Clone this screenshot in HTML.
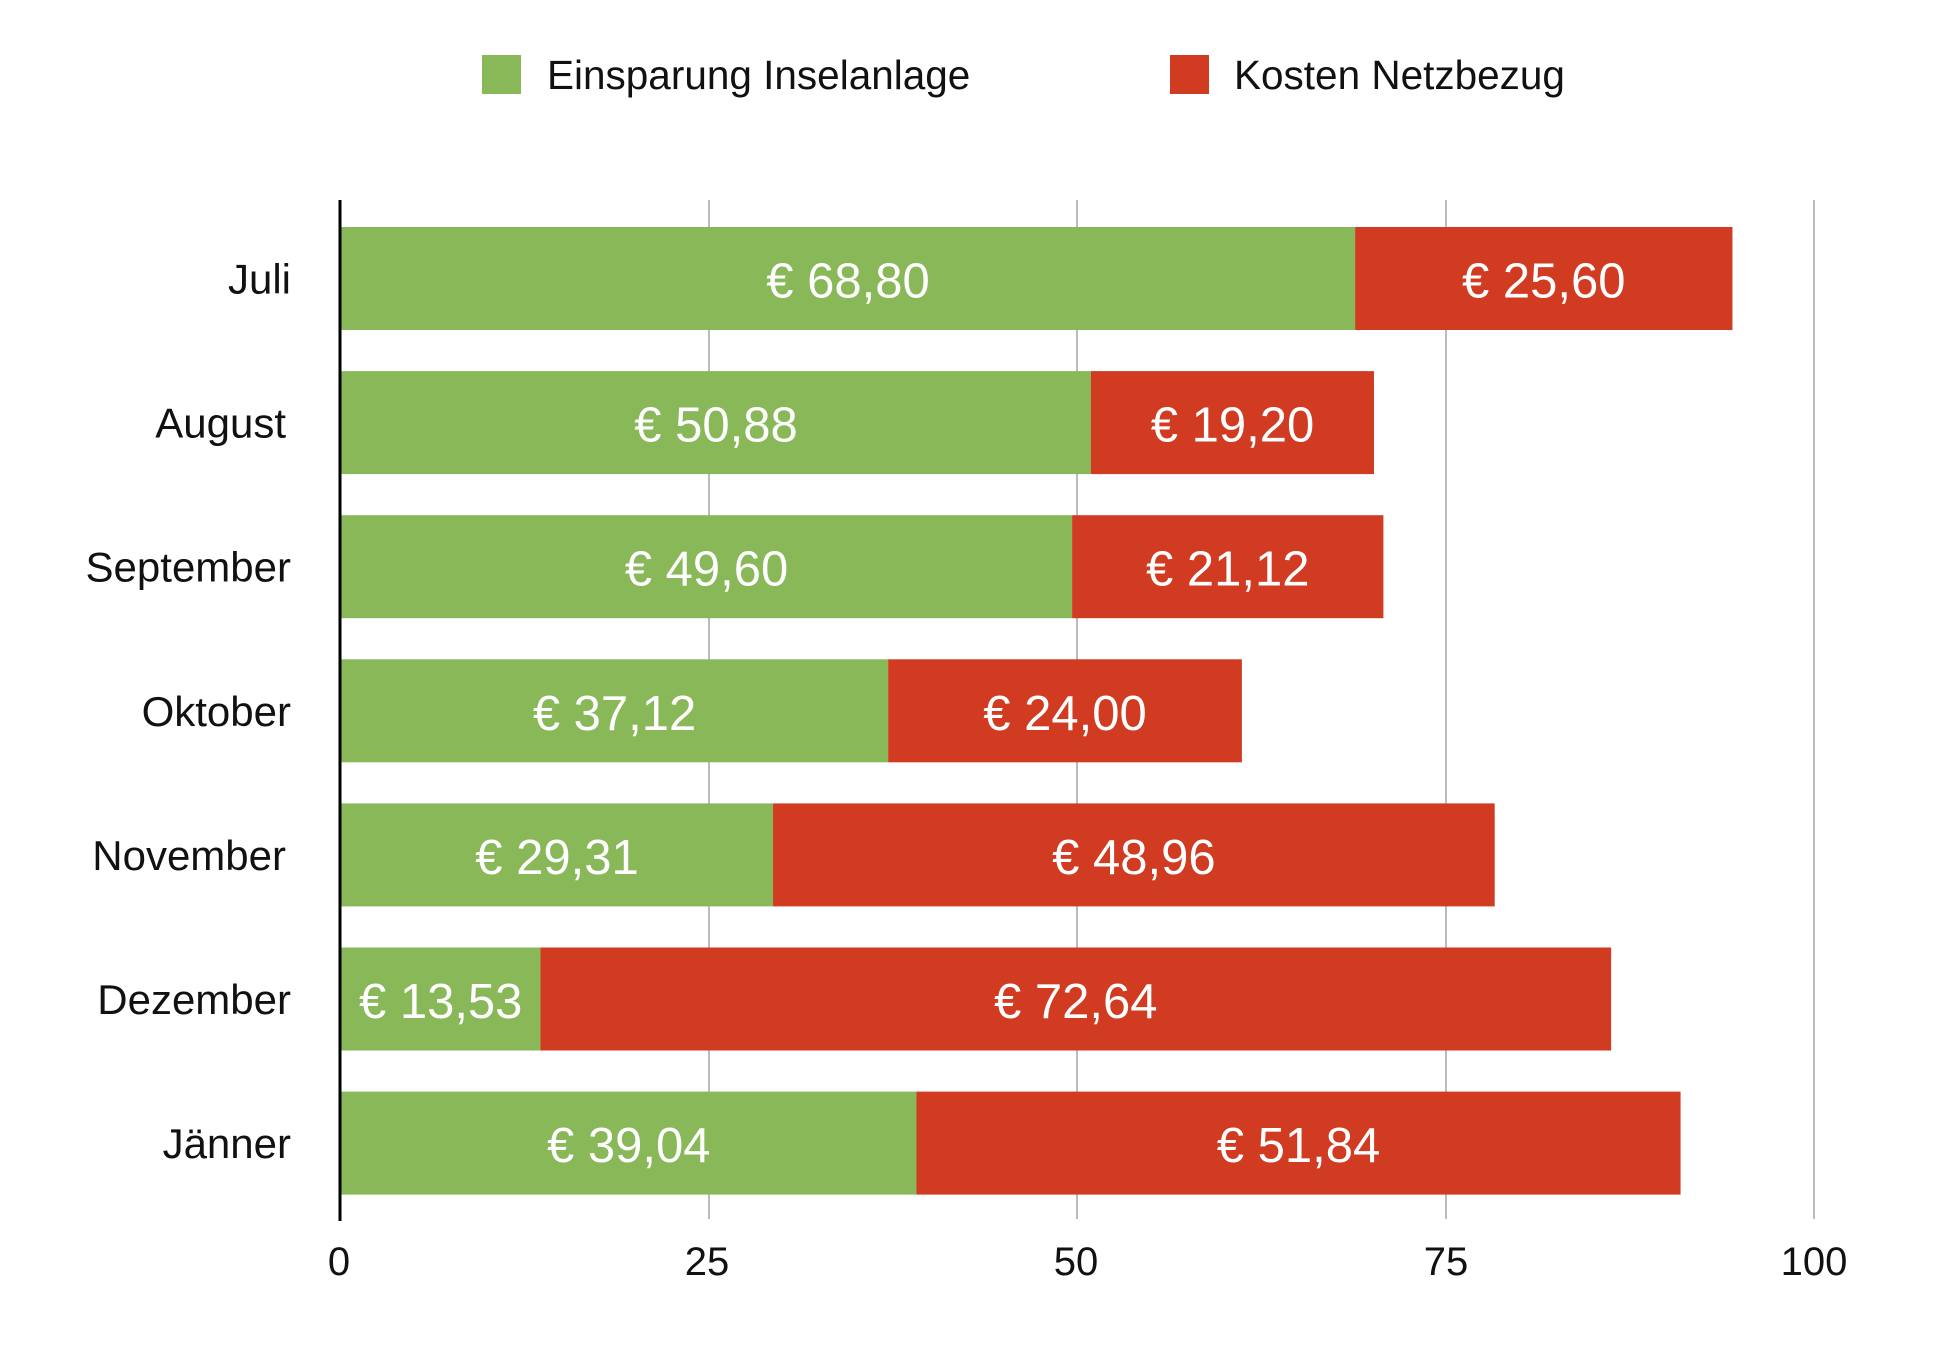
<!DOCTYPE html>
<html><head><meta charset="utf-8"><style>body{margin:0;background:#fff}svg{display:block}text{font-family:"Liberation Sans",sans-serif}</style></head><body>
<svg width="1960" height="1346" xmlns="http://www.w3.org/2000/svg">
<rect x="482" y="55" width="39" height="39" fill="#88b858"/>
<text x="547" y="89" font-size="40.5" fill="#111">Einsparung Inselanlage</text>
<rect x="1170" y="55" width="39" height="39" fill="#d03b22"/>
<text x="1234" y="89" font-size="40.5" fill="#111">Kosten Netzbezug</text>
<g stroke="#bbb" stroke-width="2">
<line x1="709" y1="200" x2="709" y2="1219"/><line x1="1077" y1="200" x2="1077" y2="1219"/><line x1="1446" y1="200" x2="1446" y2="1219"/><line x1="1814" y1="200" x2="1814" y2="1219"/>
</g>
<g id="bars" font-size="49" fill="#fff" text-anchor="middle"></g>
<line x1="340" y1="200" x2="340" y2="1221" stroke="#000" stroke-width="3"/>
<g font-size="40" fill="#111" text-anchor="middle">
<text x="339" y="1275">0</text><text x="707" y="1275">25</text><text x="1076" y="1275">50</text><text x="1446" y="1275">75</text><text x="1814" y="1275">100</text>
</g>
<g id="lab" font-size="42" fill="#111" text-anchor="end"></g>
<script>
var d=[["Juli",68.8,25.6],["August",50.88,19.2],["September",49.6,21.12],["Oktober",37.12,24.0],["November",29.31,48.96],["Dezember",13.53,72.64],["Jänner",39.04,51.84]];
var ns="http://www.w3.org/2000/svg",b=document.getElementById("bars"),l=document.getElementById("lab");
var s=14.74,x0=341;
function f(v){return "€ "+v.toFixed(2).replace(".",",");}
function el(p,t,a,tx){var e=document.createElementNS(ns,t);for(var k in a)e.setAttribute(k,a[k]);if(tx)e.textContent=tx;p.appendChild(e);}
d.forEach(function(r,i){var y=227+i*144.1,h=103,g=r[1]*s,rd=r[2]*s;
el(b,"rect",{x:x0,y:y,width:g,height:h,fill:"#88b858"});
el(b,"rect",{x:x0+g,y:y,width:rd,height:h,fill:"#d03b22"});
el(b,"text",{x:x0+g/2,y:y+h/2+19},f(r[1]));
el(b,"text",{x:x0+g+rd/2,y:y+h/2+19},f(r[2]));
var lx=(r[0]=="August"||r[0]=="November")?286:291;
el(l,"text",{x:lx,y:y+h/2+15},r[0]);
});
</script>
</svg>
</body></html>
